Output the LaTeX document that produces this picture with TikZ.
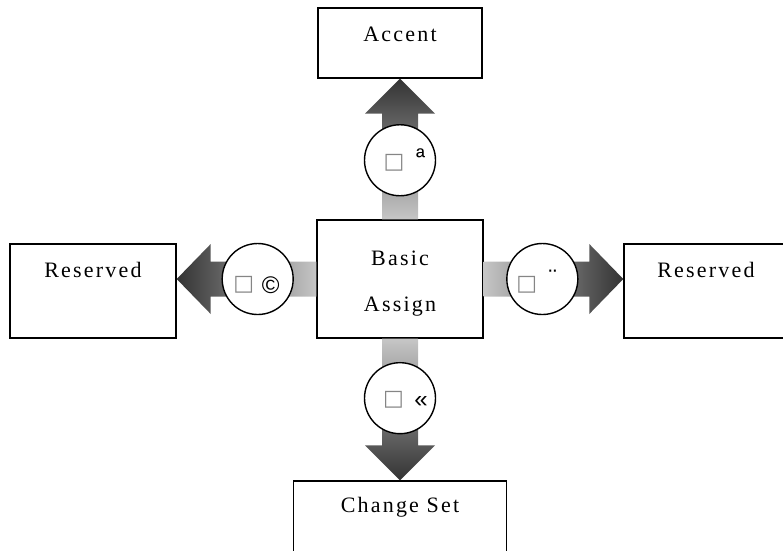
\documentclass[tikz,border=0pt]{standalone}
\usepackage{fontspec}
\setmainfont{Liberation Serif}
\newfontfamily\boxfont{Liberation Serif}[LetterSpace=10]
\newfontfamily\symfont{Liberation Sans}
\newfontfamily\sqfont{DejaVu Sans}
\usetikzlibrary{calc}
\definecolor{arrlight}{HTML}{C6C6C6}
\definecolor{arrdark}{HTML}{333333}
\definecolor{sqgray}{HTML}{858585}
\begin{document}
\begin{tikzpicture}[x=1pt,y=-1pt,
  box/.style={draw, line width=1.4pt, inner sep=0pt},
  lbl/.style={font=\boxfont\fontsize{22}{46}\selectfont, inner sep=0pt},
  hub/.style={draw, circle, line width=1.4pt, fill=white, minimum size=71pt, inner sep=0pt},
  sqsym/.style={font=\sqfont\fontsize{22}{24}\selectfont, text=sqgray, inner sep=0pt},
  chsym/.style={font=\symfont\fontsize{24}{26}\selectfont, inner sep=0pt},
]
\useasboundingbox (0,0) rectangle (783,550);
% boxes
\node[box, minimum width=166pt, minimum height=118pt] (basic) at (400,279) {};
\node[box, minimum width=164pt, minimum height=70pt] (accent) at (400,43) {};
\node[box, minimum width=166pt, minimum height=94pt] (resl) at (93,291) {};
\node[box, minimum width=164pt, minimum height=94pt] (resr) at (706,291) {};
\node[box, minimum width=213pt, minimum height=80pt] (chg) at (400,521) {};
% tip coordinates
\coordinate (tu) at (accent.south);
\coordinate (td) at (chg.north);
\coordinate (tl) at (resl.east |- basic.west);
\coordinate (tr) at (resr.west |- basic.east);
% block arrows
\shade[top color=arrdark, bottom color=arrlight]
  ($(basic.north)+(-18,0)$) -- ($(tu)+(-18,35)$) -- ($(tu)+(-35,35)$) -- (tu)
  -- ($(tu)+(35,35)$) -- ($(tu)+(18,35)$) -- ($(basic.north)+(18,0)$) -- cycle;
\shade[top color=arrlight, bottom color=arrdark]
  ($(basic.south)+(-18,0)$) -- ($(td)+(-18,-35)$) -- ($(td)+(-35,-35)$) -- (td)
  -- ($(td)+(35,-35)$) -- ($(td)+(18,-35)$) -- ($(basic.south)+(18,0)$) -- cycle;
\shade[left color=arrdark, right color=arrlight]
  ($(basic.west)+(0,-17.5)$) -- ($(tl)+(34,-17.5)$) -- ($(tl)+(34,-35)$) -- (tl)
  -- ($(tl)+(34,35)$) -- ($(tl)+(34,17.5)$) -- ($(basic.west)+(0,17.5)$) -- cycle;
\shade[left color=arrlight, right color=arrdark]
  ($(basic.east)+(0,-17.5)$) -- ($(tr)+(-34,-17.5)$) -- ($(tr)+(-34,-35)$) -- (tr)
  -- ($(tr)+(-34,35)$) -- ($(tr)+(-34,17.5)$) -- ($(basic.east)+(0,17.5)$) -- cycle;
% circles on the arrows
\node[hub] (cu) at ($(basic.north)!0.42!(tu)$) {};
\node[hub] (cd) at ($(basic.south)!0.42!(td)$) {};
\node[hub] (cl) at ($(basic.west)!0.42!(tl)$) {};
\node[hub] (cr) at ($(basic.east)!0.42!(tr)$) {};
% circle texts
\node[sqsym] (su) at ($(cu)+(-6,3)$) {□};
\node[chsym] (au) at ($(cu)+(20.5,-3)$) {ª};
\node[sqsym] (sl) at ($(cl)+(-14,6)$) {□};
\node[chsym] (al) at ($(cl)+(13,6.5)$) {©};
\node[sqsym] (sr) at ($(cr)+(-15.5,5.5)$) {□};
\node[chsym] (ar) at ($(cr)+(10.5,-1)$) {¨};
\node[sqsym] (sd) at ($(cd)+(-6.5,1.5)$) {□};
\node[chsym] (ad) at ($(cd)+(21,4)$) {«};
% box labels
\node[lbl, anchor=base] (taccent) at ($(accent.north)+(0,34)$) {Accent};
\node[lbl, anchor=base] (tresl) at ($(resl.north)+(0,34)$) {Reserved};
\node[lbl, anchor=base] (tresr) at ($(resr.north)+(0,34)$) {Reserved};
\node[lbl, anchor=base] (tchg) at ($(chg.north)+(0,32)$) {Change Set};
\node[lbl, align=center] (tbasic) at ($(basic.center)+(0,5)$) {Basic\\Assign};
\end{tikzpicture}
\end{document}
